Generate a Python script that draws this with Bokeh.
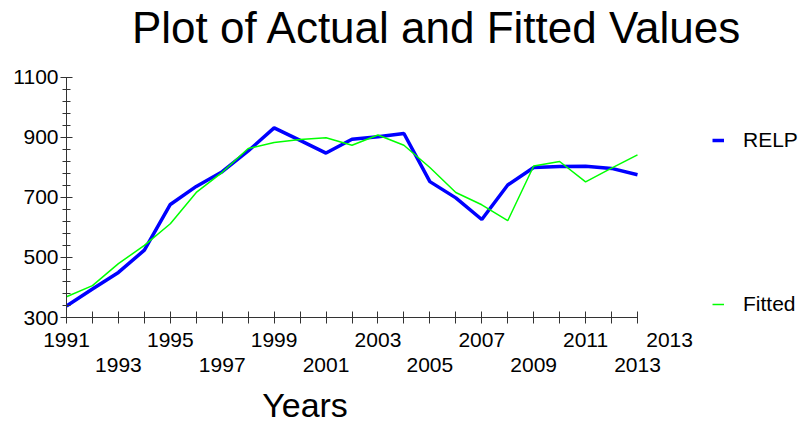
from bokeh.plotting import figure
from bokeh.models import (LinearAxis, FixedTicker, Range1d, Label, Legend,
                          LegendItem)
from bokeh.embed import file_html
from bokeh.resources import INLINE

# ---- data ----
years = list(range(1991, 2014))
relp = [338, 395, 450, 524, 676, 736, 785, 854, 931, 889, 847, 893,
        901, 912, 752, 698, 626, 741, 799, 802, 803, 796, 775]
fitted = [369, 406, 479, 540, 612, 716, 783, 862, 882, 892, 898, 873,
          907, 873, 799, 716, 675, 622, 804, 819, 751, 797, 841]
y_ticks = [300, 500, 700, 900, 1100]
y_minor = list(range(300, 1101, 40))
x_row1 = [1991, 1995, 1999, 2003, 2007, 2011]
x_row2 = [1993, 1997, 2001, 2005, 2009, 2013]
title_text = "Plot of Actual and Fitted Values"
x_title = "Years"
series_names = ["RELP", "Fitted"]
series_colors = ["#0000FF", "#00FF00"]
series_widths = [3.5, 1.5]

# ---- layout constants (pixels) ----
FONT = "Liberation Sans"
TICK_FS = "21px"
AXC = "#333333"
NBSP = "\u00a0"
W, H = 800, 426
AX_LEFT, AX_RIGHT = 66, 637      # where the x axis starts / ends
AX_TOP, AX_BOTTOM = 77, 319      # where the y axis ends / starts
px_per_year = (AX_RIGHT - AX_LEFT) / (years[-1] - years[0])
px_per_unit = (AX_BOTTOM - AX_TOP) / (y_ticks[-1] - y_ticks[0])
# the plotting frame is extended to the right edge and the top edge so that
# the title and legend can live inside it; axes are bounded to the data span
x_end = years[-1] + (W - AX_RIGHT) / px_per_year
y_end = y_ticks[0] + AX_BOTTOM / px_per_unit
years_label_x = round(years[0] + (304.5 - AX_LEFT) / px_per_year, 2)
TITLE_BASELINE = 29.2            # from top of page (renderer offset included)
LEG_Y = [142, 306]               # legend entry centres from top of page
LEG_X = 712


def row1_label(yr):
    if yr in x_row1:
        return str(yr)
    if yr == years[-1]:
        # end-of-axis label that sits to the right of the last tick
        return NBSP * 11 + str(yr)
    return ""


p = figure(width=W, height=H, output_backend="svg", toolbar_location=None,
           x_range=Range1d(years[0], x_end),
           y_range=Range1d(y_ticks[0], y_end),
           x_axis_location=None,
           min_border_left=AX_LEFT, min_border_right=0,
           min_border_top=0, min_border_bottom=H - AX_BOTTOM)
p.outline_line_color = None
p.background_fill_color = "white"
p.border_fill_color = "white"
p.xgrid.visible = False
p.ygrid.visible = False

ya = p.yaxis[0]
ya.bounds = (y_ticks[0], y_ticks[-1])
ya.ticker = FixedTicker(ticks=y_ticks, minor_ticks=y_minor)
ya.major_tick_in = 6
ya.major_tick_out = 6
ya.minor_tick_in = 4
ya.minor_tick_out = 4
ya.axis_line_color = AXC
ya.major_tick_line_color = AXC
ya.minor_tick_line_color = AXC
ya.major_label_standoff = 2
ya.major_label_text_font = FONT
ya.major_label_text_font_size = TICK_FS
ya.major_label_text_color = "black"

ax1 = LinearAxis(ticker=FixedTicker(ticks=years, minor_ticks=[]),
                 bounds=(years[0], years[-1]),
                 major_label_overrides={yr: row1_label(yr) for yr in years})
ax1.major_tick_in = 6
ax1.major_tick_out = 6
ax1.minor_tick_in = 0
ax1.minor_tick_out = 0
ax1.axis_line_color = AXC
ax1.major_tick_line_color = AXC
ax1.major_label_standoff = 4
ax1.major_label_text_font = FONT
ax1.major_label_text_font_size = TICK_FS
ax1.major_label_text_color = "black"
p.add_layout(ax1, "below")

ax2 = LinearAxis(ticker=FixedTicker(ticks=x_row2, minor_ticks=[]),
                 bounds=(years[0], years[-1]))
ax2.major_tick_in = 0
ax2.major_tick_out = 0
ax2.minor_tick_in = 0
ax2.minor_tick_out = 0
ax2.axis_line_color = None
ax2.major_tick_line_color = None
ax2.major_label_standoff = 4
ax2.major_label_text_font = FONT
ax2.major_label_text_font_size = TICK_FS
ax2.major_label_text_color = "black"
p.add_layout(ax2, "below")

# x title ("Years") as a single-label row below the tick rows
ax3 = LinearAxis(ticker=FixedTicker(ticks=[years_label_x], minor_ticks=[]),
                 major_label_overrides={years_label_x: x_title})
ax3.major_tick_in = 0
ax3.major_tick_out = 0
ax3.minor_tick_in = 0
ax3.minor_tick_out = 0
ax3.axis_line_color = None
ax3.major_tick_line_color = None
ax3.major_label_standoff = 11
ax3.major_label_text_font = FONT
ax3.major_label_text_font_size = "34px"
ax3.major_label_text_color = "black"
p.add_layout(ax3, "below")

r_relp = p.line(years, relp, line_color=series_colors[0], line_width=series_widths[0])
r_fit = p.line(years, fitted, line_color=series_colors[1], line_width=series_widths[1])

# title (inside the extended frame, above the axes)
p.add_layout(Label(x=131.5 - AX_LEFT, y=AX_BOTTOM - TITLE_BASELINE, x_units="screen",
                   y_units="screen", text=title_text, text_align="left",
                   text_baseline="alphabetic", text_font=FONT,
                   text_font_size="44px", text_color="black"))

# legend
item_h = 24
legend = Legend(items=[LegendItem(label=series_names[0], renderers=[r_relp]),
                       LegendItem(label=series_names[1], renderers=[r_fit])],
                location=(LEG_X - AX_LEFT, AX_BOTTOM - (LEG_Y[1] + item_h / 2)),
                margin=0, padding=0, spacing=(LEG_Y[1] - LEG_Y[0]) - item_h,
                glyph_width=12, glyph_height=16, label_standoff=19,
                label_height=item_h,
                label_text_font=FONT, label_text_font_size=TICK_FS,
                label_text_color="black",
                border_line_color=None, background_fill_alpha=0)
p.add_layout(legend, "center")

open("out.html", "w").write(file_html(p, INLINE))
